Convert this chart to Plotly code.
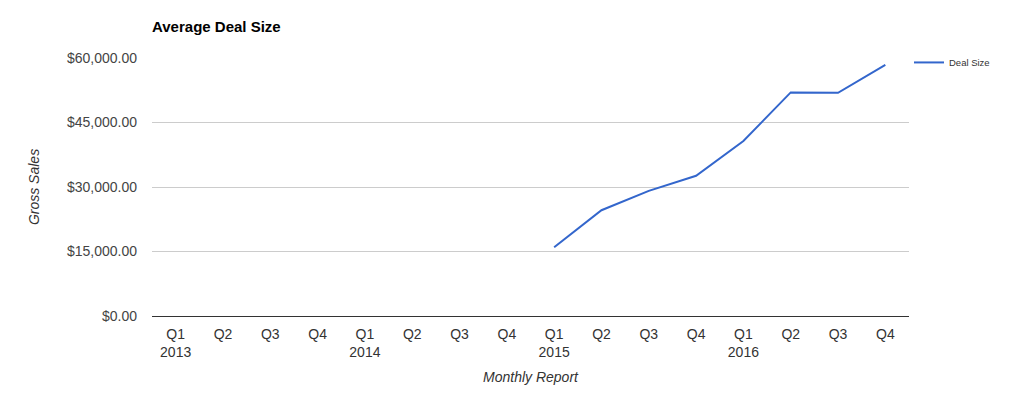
import plotly.graph_objects as go

quarters = ["Q1", "Q2", "Q3", "Q4"]
years = ["2013", "2014", "2015", "2016"]
categories = [f"{q} {y}" for y in years for q in quarters]
tick_labels = [f"{q}<br>{y}" if q == "Q1" else q for y in years for q in quarters]
deal_size = [None, None, None, None,
             None, None, None, None,
             16000, 24600, 29100, 32600,
             40700, 52000, 51900, 58400]
y_ticks = [0, 15000, 30000, 45000, 60000]
y_tick_labels = ["$0.00", "$15,000.00", "$30,000.00", "$45,000.00", "$60,000.00"]

fig = go.Figure()
fig.add_trace(go.Scatter(
    x=categories, y=deal_size, mode="lines", name="Deal Size",
    line=dict(color="#3366CC", width=2), connectgaps=False,
))

font_family = "Liberation Sans, Arial, sans-serif"
fig.update_layout(
    width=1020, height=394,
    margin=dict(l=144, r=119, t=50, b=86),
    paper_bgcolor="white", plot_bgcolor="white",
    font=dict(family=font_family, size=14, color="#444444"),
    title=dict(text="<b>Average Deal Size</b>", x=144/1020, xanchor="left",
               y=1 - 19/394, yanchor="middle",
               font=dict(size=15, color="#000000", family=font_family)),
    showlegend=True,
    legend=dict(x=1.0, xanchor="left", y=1.039, yanchor="top",
                font=dict(size=9.5, color="#333333"), itemwidth=30,
                bgcolor="rgba(0,0,0,0)"),
    xaxis=dict(
        type="category", range=[-0.5, 15.5],
        tickvals=categories, ticktext=tick_labels,
        showgrid=False, zeroline=False, showline=False,
        ticks="", ticklabelstandoff=8, tickfont=dict(size=14, color="#333333"),
        title=dict(text="<i>Monthly Report</i>", font=dict(size=14, color="#333333"), standoff=12),
    ),
    yaxis=dict(
        range=[0, 60000], tickvals=y_ticks, ticktext=y_tick_labels,
        showgrid=True, gridcolor="#CCCCCC", gridwidth=1,
        zeroline=True, zerolinecolor="#333333", zerolinewidth=1,
        showline=False, ticks="", ticklabelstandoff=14,
        tickfont=dict(size=14, color="#444444"),
        title=dict(text="<i>Gross Sales</i>", font=dict(size=14, color="#333333"), standoff=24),
    ),
)

fig.write_html("out.html")
